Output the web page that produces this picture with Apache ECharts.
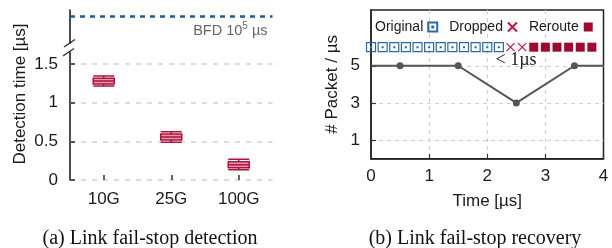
<!DOCTYPE html>
<html>
<head>
<meta charset="utf-8">
<script src="https://cdn.jsdelivr.net/npm/echarts@6.0.0/dist/echarts.min.js"></script>
<style>
  html, body { margin: 0; padding: 0; background: #fff; }
  #chart { width: 612px; height: 248px; }
</style>
</head>
<body>
<div id="chart"></div>
<script>
// (a) detection time per link speed, [min, Q1, median, Q3, max] in µs
const linkSpeeds = ['10G', '25G', '100G']
const detectionTime = [
  [1.216, 1.242, 1.281, 1.316, 1.345],
  [0.490, 0.517, 0.556, 0.595, 0.625],
  [0.133, 0.159, 0.198, 0.237, 0.268]
]
const detectionTicks = [0, 0.5, 1, 1.5]
const bfdTime = 1e5

// (b) packet rate over time
const rateTime = [0, 0.5, 1.5, 2.5, 3.5, 4]
const rateValue = [5, 5, 5, 3, 5, 5]
const packetTicks = [1, 3, 5]
const packetRow = 6
const originalTimes = [0, 0.2, 0.4, 0.6, 0.8, 1.0, 1.2, 1.4, 1.6, 1.8, 2.0, 2.2]
const droppedTimes = [2.4, 2.6]
const rerouteTimes = [2.8, 3.0, 3.2, 3.4, 3.6, 3.8]

const SANS = '"Liberation Sans", Arial, sans-serif'
const SERIF = '"Liberation Serif", "Times New Roman", serif'
const labelStyle = { fontFamily: SANS, fontSize: 17, color: '#1a1a1a' }

const chart = echarts.init(document.getElementById('chart'))

chart.setOption({
  animation: false,
  backgroundColor: '#fff',
  textStyle: { fontFamily: SANS },
  grid: [
    { left: 70, top: 10, width: 202.5, height: 33 },
    { left: 70, top: 52, width: 202.5, height: 128 },
    { left: 371, top: 10, width: 232.5, height: 148.7, show: true, borderColor: '#222', borderWidth: 1.5 }
  ],
  legend: {
    data: ['Original', 'Dropped', 'Reroute'],
    left: 370,
    top: 15,
    align: 'right',
    itemGap: 11,
    itemWidth: 9,
    itemHeight: 9,
    textStyle: { fontFamily: SANS, fontSize: 14, color: '#1a1a1a' }
  },
  xAxis: [
    { type: 'category', gridIndex: 0, data: linkSpeeds, show: false },
    {
      type: 'category',
      gridIndex: 1,
      data: linkSpeeds,
      axisLine: { show: false },
      axisTick: { show: true, inside: true, alignWithLabel: true, length: 5, lineStyle: { color: '#333', width: 1.5 } },
      axisLabel: Object.assign({ margin: 11 }, labelStyle),
      splitLine: { show: false }
    },
    {
      type: 'value',
      gridIndex: 2,
      min: 0,
      max: 4,
      interval: 1,
      name: 'Time [µs]',
      nameLocation: 'middle',
      nameGap: 34,
      nameTextStyle: labelStyle,
      axisLine: { show: true, lineStyle: { color: '#222', width: 1.5 } },
      axisTick: { show: true, inside: true, length: 5, lineStyle: { color: '#333', width: 1.2 } },
      axisLabel: Object.assign({ margin: 9 }, labelStyle),
      splitLine: { show: true, showMinLine: false, showMaxLine: false, lineStyle: { color: '#cfcfcf', type: [4, 4], width: 1 } }
    }
  ],
  yAxis: [
    {
      type: 'value',
      gridIndex: 0,
      min: 0,
      max: 1.25e5,
      axisLine: { show: true, lineStyle: { color: '#111', width: 1.5 } },
      axisTick: { show: false },
      axisLabel: { show: false },
      splitLine: { show: false }
    },
    {
      type: 'value',
      gridIndex: 1,
      min: 0,
      max: 1.656,
      axisLine: { show: true, lineStyle: { color: '#111', width: 1.5 } },
      axisTick: { show: true, inside: true, length: 5, customValues: detectionTicks, lineStyle: { color: '#555', width: 2 } },
      axisLabel: Object.assign({ margin: 12, customValues: detectionTicks }, labelStyle),
      splitLine: { show: true, lineStyle: { color: '#dcdcdc', type: [5, 6], width: 2 } }
    },
    {
      type: 'value',
      gridIndex: 2,
      min: 0,
      max: 8,
      name: '# Packet / µs',
      nameLocation: 'middle',
      nameGap: 30,
      nameTextStyle: labelStyle,
      axisLine: { show: true, lineStyle: { color: '#222', width: 1.5 } },
      axisTick: { show: true, inside: true, length: 5, customValues: packetTicks, lineStyle: { color: '#333', width: 1.2 } },
      axisLabel: Object.assign({ margin: 11, customValues: packetTicks }, labelStyle),
      splitLine: { show: true, lineStyle: { color: '#cfcfcf', type: [4, 4], width: 1 } }
    }
  ],
  series: [
    {
      name: 'BFD',
      type: 'line',
      xAxisIndex: 0,
      yAxisIndex: 0,
      data: [],
      markLine: {
        silent: true,
        symbol: ['none', 'none'],
        data: [{ yAxis: bfdTime }],
        lineStyle: { color: '#1d5c9a', type: [5, 5], width: 2.5 },
        label: {
          position: 'insideEndBottom',
          distance: 5,
          formatter: 'BFD 10{sup|5} µs',
          color: '#666',
          fontFamily: SANS,
          fontSize: 14.5,
          rich: {
            sup: { fontSize: 10, color: '#666', padding: [0, 0, 9, 0] }
          }
        }
      }
    },
    {
      name: 'Detection',
      type: 'boxplot',
      xAxisIndex: 1,
      yAxisIndex: 1,
      boxWidth: [21, 21],
      data: detectionTime,
      itemStyle: { color: 'rgba(220, 130, 155, 0.8)', borderColor: '#b0123e', borderWidth: 1.5 }
    },
    {
      name: 'Rate',
      type: 'line',
      xAxisIndex: 2,
      yAxisIndex: 2,
      data: rateTime.map((t, i) => [t, rateValue[i]]),
      showAllSymbol: true,
      symbol: (val, params) => (params.dataIndex === 0 || params.dataIndex === rateTime.length - 1) ? 'none' : 'circle',
      symbolSize: 7,
      lineStyle: { color: '#555', width: 2 },
      itemStyle: { color: '#555' }
    },
    {
      name: 'Original',
      type: 'scatter',
      xAxisIndex: 2,
      yAxisIndex: 2,
      clip: false,
      data: originalTimes.map(t => [t, packetRow]),
      symbol: 'path://M0,0H10V10H0Z M4.5,4.5H5.5V5.5H4.5Z',
      symbolSize: 9,
      itemStyle: { color: 'rgba(0,0,0,0)', borderColor: '#2c68a4', borderWidth: 1.2, opacity: 1 }
    },
    {
      name: 'Dropped',
      type: 'scatter',
      xAxisIndex: 2,
      yAxisIndex: 2,
      data: droppedTimes.map(t => [t, packetRow]),
      symbol: 'path://M0,0L10,10M10,0L0,10',
      symbolSize: 8,
      itemStyle: { color: 'rgba(0,0,0,0)', borderColor: '#c4173f', borderWidth: 1.2, opacity: 1 }
    },
    {
      name: 'Reroute',
      type: 'scatter',
      xAxisIndex: 2,
      yAxisIndex: 2,
      data: rerouteTimes.map(t => [t, packetRow]),
      symbol: 'rect',
      symbolSize: 9,
      itemStyle: { color: '#a0092f', opacity: 1 }
    }
  ],
  graphic: [
    // axis break marks
    { type: 'line', shape: { x1: 64, y1: 47, x2: 75, y2: 39.5 }, style: { stroke: '#333', lineWidth: 1.5 } },
    { type: 'line', shape: { x1: 63, y1: 56, x2: 74, y2: 48.5 }, style: { stroke: '#333', lineWidth: 1.5 } },
    {
      type: 'text', x: 20, y: 94, rotation: Math.PI / 2,
      style: { text: 'Detection time [µs]', font: '17px ' + SANS, fill: '#1a1a1a', align: 'center', verticalAlign: 'middle' }
    },
    {
      type: 'text', x: 516, y: 60,
      style: { text: '< 1µs', font: '18px ' + SERIF, fill: '#1a1a1a', align: 'center', verticalAlign: 'middle' }
    },
    {
      type: 'text', x: 150, y: 239,
      style: { text: '(a) Link fail-stop detection', font: '20px ' + SERIF, fill: '#111', align: 'center', verticalAlign: 'middle' }
    },
    {
      type: 'text', x: 475, y: 239,
      style: { text: '(b) Link fail-stop recovery', font: '20px ' + SERIF, fill: '#111', align: 'center', verticalAlign: 'middle' }
    }
  ]
})
</script>
</body>
</html>
